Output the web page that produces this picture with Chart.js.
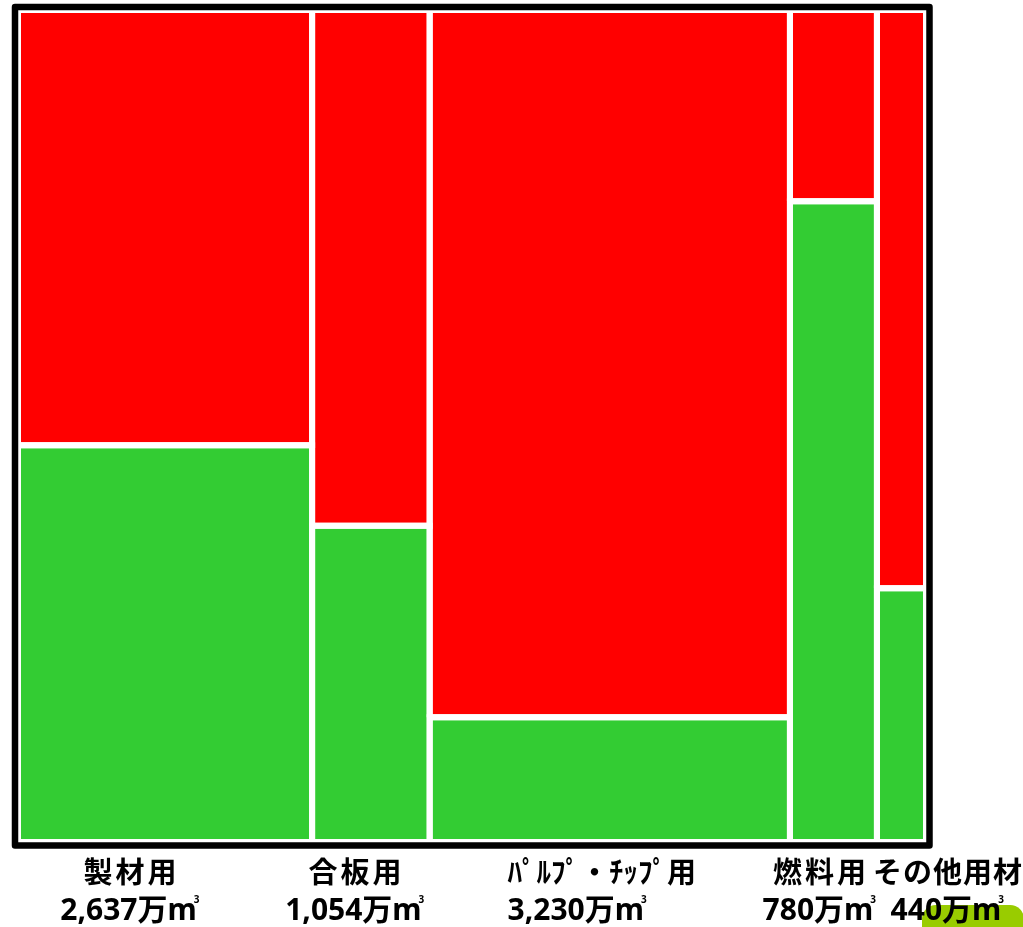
<!DOCTYPE html>
<html lang="ja">
<head>
<meta charset="utf-8">
<title>用途別木材供給量と国産材の割合</title>
<script src="https://cdn.jsdelivr.net/npm/chart.js@4.4.1/dist/chart.umd.min.js"></script>
<style>
  html, body { margin: 0; padding: 0; background: #ffffff; }
  #wrap { position: relative; width: 1023px; height: 927px; }
</style>
</head>
<body>
<div id="wrap"><canvas id="chart"></canvas></div>
<script>
// 用途別の木材供給量（万㎥）と、そのうち国産材が占める割合（％）
const categories = ['製材用', '合板用', 'ﾊﾟﾙﾌﾟ・ﾁｯﾌﾟ用', '燃料用', 'その他用材'];
const volumes = [2637, 1054, 3230, 780, 440];
const domesticShare = [47.7, 38.0, 15.0, 77.0, 30.5];
const unitLabel = '万m';

const GREEN = '#33cc33';
const RED = '#ff0000';
const total = volumes.reduce((a, b) => a + b, 0);

// column edges along the x axis (cumulative volume)
const edges = [0];
volumes.forEach(v => edges.push(edges[edges.length - 1] + v));

// one closed rectangle per segment: domestic part (bottom) and imported part (top)
function rect(x0, x1, y0, y1) {
  return [{x: x0, y: y0}, {x: x1, y: y0}, {x: x1, y: y1}, {x: x0, y: y1}, {x: x0, y: y0}];
}
const datasets = [];
categories.forEach((name, i) => {
  const x0 = edges[i], x1 = edges[i + 1];
  datasets.push({
    label: name + '（国産材）',
    data: rect(x0, x1, 0, domesticShare[i]),
    backgroundColor: GREEN
  });
  datasets.push({
    label: name + '（輸入材）',
    data: rect(x0, x1, domesticShare[i], 100),
    backgroundColor: RED
  });
});
datasets.forEach(d => Object.assign(d, {
  showLine: true, fill: 'shape', borderColor: '#ffffff', borderWidth: 6,
  pointRadius: 0, pointHoverRadius: 0, tension: 0, borderJoinStyle: 'miter'
}));

const FONT = '"Noto Sans", "Noto Sans CJK JP", sans-serif';
const CJK = '"Noto Sans CJK JP", "Noto Sans", sans-serif';
// caption placement: shift from the column centre, letter spacing, line alignment
const labelShift = [-35, -16, -8, -14, 46];
const labelSpacing = [3, 3, 0, 3, 1];
const labelLeftAligned = [false, false, true, false, false];

const decorPlugin = {
  id: 'decor',
  beforeDraw(chart) {
    const ctx = chart.ctx;
    ctx.save();
    ctx.fillStyle = '#99cc00';
    ctx.beginPath();
    ctx.roundRect(922, 905, 102, 40, 14);
    ctx.fill();
    ctx.restore();
  },
  afterDatasetsDraw(chart) {
    const {ctx, chartArea: a} = chart;
    ctx.save();
    ctx.strokeStyle = '#000000';
    ctx.lineWidth = 6.5;
    ctx.lineJoin = 'round';
    ctx.strokeRect(a.left - 3, a.top - 3, a.right - a.left + 6.5, a.bottom - a.top + 6.5);
    ctx.restore();
  },
  afterDraw(chart) {
    const {ctx} = chart;
    const xs = chart.scales.x;
    ctx.save();
    ctx.fillStyle = '#000000';
    ctx.textBaseline = 'alphabetic';
    ctx.textAlign = 'left';
    categories.forEach((name, i) => {
      const cx = xs.getPixelForValue((edges[i] + edges[i + 1]) / 2) + labelShift[i];
      // first line: use
      ctx.font = 'bold 29px ' + CJK;
      ctx.letterSpacing = labelSpacing[i] + 'px';
      const w1 = ctx.measureText(name).width - labelSpacing[i];
      const left1 = cx - w1 / 2;
      ctx.fillText(name, left1, 883);
      ctx.letterSpacing = '0px';
      // second line: volume with cubic-metre unit
      const txt = volumes[i].toLocaleString('en-US') + unitLabel;
      ctx.font = 'bold 30px ' + FONT;
      const wTxt = ctx.measureText(txt).width;
      const w2 = wTxt + 3;
      const left2 = labelLeftAligned[i] ? left1 : cx - w2 / 2;
      ctx.fillText(txt, left2, 920);
      ctx.font = 'bold 10px ' + FONT;
      ctx.fillText('3', left2 + wTxt - 3, 903);
    });
    ctx.restore();
  }
};

new Chart(document.getElementById('chart'), {
  type: 'scatter',
  data: { datasets },
  options: {
    responsive: true,
    maintainAspectRatio: false,
    animation: false,
    layout: { padding: { left: 18, top: 10, right: 97, bottom: 85 } },
    scales: {
      x: { type: 'linear', min: 0, max: total, display: false },
      y: { type: 'linear', min: 0, max: 100, display: false }
    },
    plugins: {
      legend: { display: false },
      tooltip: { enabled: false },
      filler: { propagate: false, drawTime: 'beforeDatasetsDraw' }
    },
    events: []
  },
  plugins: [decorPlugin]
});
</script>
</body>
</html>
